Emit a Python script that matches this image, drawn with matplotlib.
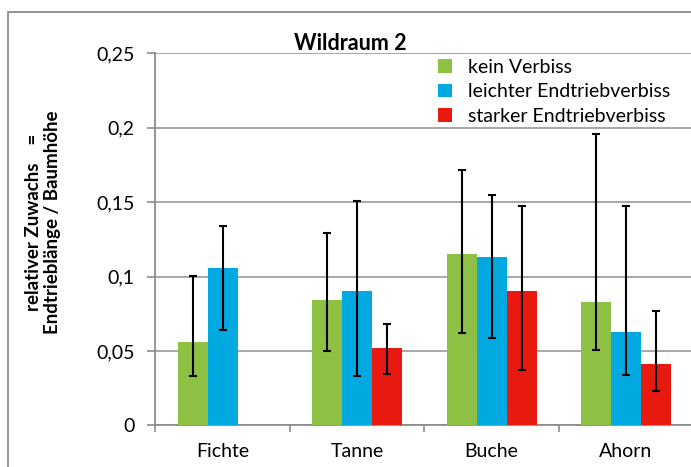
import numpy as np
import matplotlib
matplotlib.use("Agg")
import matplotlib.pyplot as plt
from matplotlib.patches import Patch, Rectangle

plt.rcParams['font.family'] = ['Lato', 'DejaVu Sans']

categories = ["Fichte", "Tanne", "Buche", "Ahorn"]
series_names = ["kein Verbiss", "leichter Endtriebverbiss", "starker Endtriebverbiss"]
colors = ["#8DC043", "#00A9E0", "#E8190E"]

kein = [0.0558, 0.0842, 0.1150, 0.0831]
kein_low = [0.0330, 0.0500, 0.0622, 0.0504]
kein_high = [0.1004, 0.1295, 0.1716, 0.1960]

leicht = [0.1056, 0.0901, 0.1128, 0.0628]
leicht_low = [0.0642, 0.0328, 0.0588, 0.0340]
leicht_high = [0.1338, 0.1507, 0.1545, 0.1473]

stark = [np.nan, 0.0520, 0.0901, 0.0414]
stark_low = [np.nan, 0.0347, 0.0372, 0.0232]
stark_high = [np.nan, 0.0684, 0.1475, 0.0766]

ytick_values = [0, 0.05, 0.1, 0.15, 0.2, 0.25]
ytick_labels = ["0", "0,05", "0,1", "0,15", "0,2", "0,25"]

W, H = 691, 467
fig = plt.figure(figsize=(W / 100, H / 100), dpi=100)

# outer chart border
fig.patches.append(Rectangle((8 / W, -0.1), 1.2, 1 - 12 / H + 0.1, transform=fig.transFigure,
                             fill=False, edgecolor="#8c8c8c", linewidth=1.3))

ax = fig.add_axes([155.3 / W, 41.7 / H, 538 / W, 372 / H])

x = np.arange(len(categories))
bw = 0.223
series = [(kein, kein_low, kein_high), (leicht, leicht_low, leicht_high), (stark, stark_low, stark_high)]
for i, (vals, lo, hi) in enumerate(series):
    vals = np.array(vals, dtype=float)
    lo = np.array(lo, dtype=float)
    hi = np.array(hi, dtype=float)
    pos = x + (i - 1) * bw
    ax.bar(pos, vals, width=bw, color=colors[i], zorder=3, linewidth=0)
    mask = ~np.isnan(vals)
    ax.errorbar(pos[mask], vals[mask], yerr=[vals[mask] - lo[mask], hi[mask] - vals[mask]],
                fmt="none", ecolor="black", elinewidth=1.5, capsize=2.8, capthick=1.5, zorder=4)

ax.set_xlim(-0.5, 3.5)
ax.set_ylim(0, 0.25)
ax.set_yticks(ytick_values)
ax.set_yticklabels(ytick_labels, fontsize=14)
ax.set_xticks(x)
ax.set_xticklabels(categories, fontsize=14)
ax.set_xticks([-0.5, 0.5, 1.5, 2.5, 3.5], minor=True)
ax.tick_params(axis="x", which="major", length=0, pad=13)
ax.tick_params(axis="x", which="minor", length=5, color="#8c8c8c", width=1.2)
ax.tick_params(axis="y", length=6, color="#8c8c8c", width=1.2, pad=9)
ax.grid(axis="y", color="#a0a0a0", linewidth=1.3, zorder=0)
ax.set_axisbelow(True)
for s in ["top", "right"]:
    ax.spines[s].set_visible(False)
for s in ["left", "bottom"]:
    ax.spines[s].set_color("#8c8c8c")
    ax.spines[s].set_linewidth(1.3)

handles = [Patch(facecolor=c, edgecolor="none") for c in colors]
ax.legend(handles, series_names, loc="upper left", bbox_to_anchor=(438 / W, 1 - 59 / H),
          bbox_transform=fig.transFigure, frameon=False, fontsize=14,
          handlelength=0.7, handleheight=0.7, handletextpad=0.85, labelspacing=0.38,
          borderpad=0, borderaxespad=0)

fig.text(350 / W, 1 - 44 / H, "Wildraum 2", ha="center", va="center", fontsize=15.5, fontweight="bold")
fig.text(43 / W, 1 - 222 / H, "relativer Zuwachs    =\nEndtrieblänge / Baumhöhe", rotation=90,
         ha="center", va="center", fontsize=13.5, fontweight="bold", multialignment="center",
         linespacing=1.1)

fig.savefig("out.png", dpi=100)
